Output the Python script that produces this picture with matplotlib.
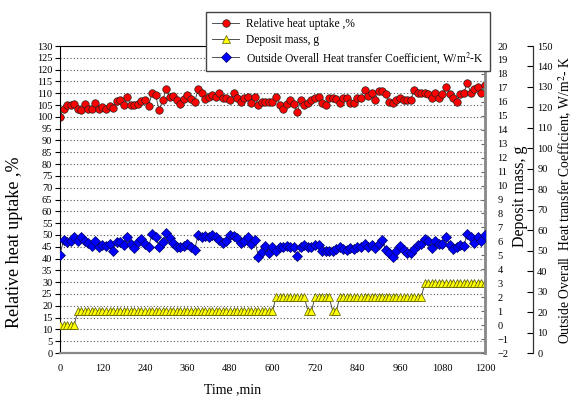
import numpy as np
import matplotlib
matplotlib.use('Agg')
import matplotlib.pyplot as plt

plt.rcParams['font.family'] = ['Liberation Serif', 'DejaVu Serif']
plt.rcParams['mathtext.fontset'] = 'stix'

# time axis, one reading every 10 min
time_min = np.arange(0, 1201, 10)

# relative heat uptake, %
heat_uptake = [
    100, 103.5, 105, 105.2, 105.5, 103.5, 103, 105.5, 103.5, 103.5,
    106, 103.2, 104, 103.5, 104.5, 103.8, 106.6, 107, 105, 108.2,
    105, 105, 105.5, 106.6, 107, 104.7, 110, 109.2, 102.8, 107,
    111.9, 108.6, 109, 107, 105.5, 107.4, 109.2, 107.4, 106.2, 111.7,
    110.3, 107.7, 108.6, 109.3, 108.6, 110.2, 107.9, 107.8, 107, 109.9,
    107.8, 106.4, 107.8, 108.6, 105.7, 108.6, 105, 106.4, 106.5, 106.5,
    106.2, 108.6, 105.2, 103.5, 105.5, 107.2, 105.5, 102.1, 107, 105,
    105.7, 107, 107.8, 108.2, 105.7, 105, 107.8, 107.8, 107.5, 106,
    107.8, 107.8, 105.8, 105.8, 107.8, 107.8, 111.5, 108.8, 110, 107.2,
    111, 110.8, 109.5, 106.2, 105.8, 107, 107.8, 107.2, 107, 107.2,
    111.2, 110.3, 110.3, 110, 109.8, 107.8, 110.2, 107.8, 109.5, 112.7,
    109.6, 107.8, 106.5, 109.5, 110.2, 114.2, 110.2, 111.6, 112.5, 110.2,
    113.4,
]

# deposit mass, g
deposit_mass = ([0] * 5 + [1] * 56 + [2] * 9 + [1] * 2 + [2] * 5 + [1] * 2
                + [2] * 24 + [3] * 18)

# outside overall heat transfer coefficient, W/m2-K
htc = [
    48.0, 55.2, 54.3, 54.7, 56.5, 54.8, 56.5, 54.6, 53.9, 52.4,
    54.8, 51.6, 52.7, 52.3, 53.2, 50.0, 54.2, 54.2, 52.6, 56.5,
    53.2, 51.5, 54.2, 55.5, 53.5, 51.9, 58.2, 56.8, 51.6, 54.2,
    58.7, 56.0, 53.9, 51.6, 51.6, 52.3, 53.5, 51.9, 50.3, 57.7,
    56.5, 57.1, 56.5, 57.7, 56.5, 55.2, 53.9, 54.6, 57.7, 57.1,
    56.0, 53.9, 54.6, 56.8, 53.2, 55.2, 47.1, 49.5, 52.3, 49.0,
    51.9, 50.0, 51.6, 51.9, 52.3, 51.6, 51.9, 47.3, 51.6, 52.6,
    51.6, 51.9, 52.7, 52.7, 50.0, 50.0, 49.6, 49.6, 50.7, 51.6,
    50.7, 50.3, 51.2, 51.0, 51.6, 51.9, 53.5, 51.6, 52.6, 51.2,
    53.2, 55.2, 50.3, 48.7, 46.7, 50.0, 52.3, 50.3, 49.0, 48.7,
    50.7, 52.6, 53.5, 55.5, 54.6, 51.2, 54.8, 53.2, 53.5, 56.8,
    53.0, 50.7, 51.6, 52.6, 52.3, 58.2, 56.5, 53.9, 56.8, 54.8,
    57.7,
]

x_ticks = list(range(0, 1201, 120))
left_ticks = list(range(0, 131, 5))
deposit_ticks = list(range(-2, 21))
htc_ticks = list(range(0, 151, 10))

fig = plt.figure(figsize=(5.73, 3.97), dpi=100)
ax = fig.add_axes([0.1047, 0.1108, 0.7417, 0.7733])
ax2 = ax.twinx()
ax3 = ax.twinx()

tick_fs = 7.5

# main axis: relative heat uptake
l1, = ax.plot(time_min, heat_uptake, color='#333333', lw=0.6, marker='o',
              ms=5.4, mfc='#ff0000', mec='#222222', mew=0.5,
              label='Relative heat uptake ,%')
ax.set_xlim(0, 1200)
ax.set_ylim(0, 130)
ax.set_xticks(x_ticks)
ax.set_yticks(left_ticks)
ax.tick_params(axis='x', length=0, pad=8, labelsize=tick_fs)
ax.tick_params(axis='y', direction='out', length=3.5, width=0.8, pad=2,
               labelsize=tick_fs)
ax.yaxis.grid(True, linestyle=(0, (1, 2)), color='#555555', linewidth=0.8)
ax.set_axisbelow(True)
ax.spines['bottom'].set_color('#888888')
ax.spines['bottom'].set_linewidth(1.6)
ax.spines['right'].set_visible(False)
ax.set_xlabel('Time ,min', fontsize=10)
ax.xaxis.set_label_coords(0.407, -0.097)
ax.set_ylabel('Relative heat uptake ,%', fontsize=13)
ax.yaxis.set_label_coords(-0.088, 0.36)

# deposit mass axis
l2, = ax2.plot(time_min, deposit_mass, color='#333333', lw=0.6, marker='^',
               ms=5.2, mfc='#ffff00', mec='#555500', mew=0.5,
               label='Deposit mass, g')
ax2.set_ylim(-2, 20)
ax2.set_yticks(deposit_ticks)
ax2.tick_params(axis='y', direction='in', length=3, width=0.8, pad=9,
                labelsize=tick_fs, color='#666666')
ax2.spines['right'].set_color('#888888')
ax2.spines['right'].set_linewidth(2)
for s in ['left', 'top', 'bottom']:
    ax2.spines[s].set_visible(False)
ax2.set_ylabel('Deposit mass, g', fontsize=11.5)
ax2.yaxis.set_label_coords(1.064, 0.51)

# heat transfer coefficient axis
l3, = ax3.plot(time_min, htc, color='#333333', lw=0.6, marker='D',
               ms=5.3, mfc='#0000ff', mec='#000066', mew=0.5,
               label='Outside Overall Heat transfer Coefficient, W/m$^{2}$-K')
ax3.set_ylim(0, 150)
ax3.set_yticks(htc_ticks)
ax3.spines['right'].set_position(('axes', 1.113))
ax3.spines['right'].set_color('#333333')
ax3.spines['right'].set_linewidth(0.9)
for s in ['left', 'top', 'bottom']:
    ax3.spines[s].set_visible(False)
ax3.tick_params(axis='y', direction='in', length=4, width=0.8, pad=3,
                labelsize=tick_fs)
ax3.set_ylabel('Outside Overall  Heat transfer Coefficient, W/m$^{2}$- K',
               fontsize=9.8)
ax3.yaxis.set_label_coords(1.168, 0.50)

fig.legend(handles=[l1, l2, l3], loc='upper left',
           bbox_to_anchor=(0.3595, 0.9698), fontsize=8.3, frameon=True,
           fancybox=False, edgecolor='#444444', framealpha=1,
           handlelength=2.4, labelspacing=0.35, borderpad=0.5,
           borderaxespad=0, handletextpad=0.6)

fig.savefig('out.png', dpi=100)
